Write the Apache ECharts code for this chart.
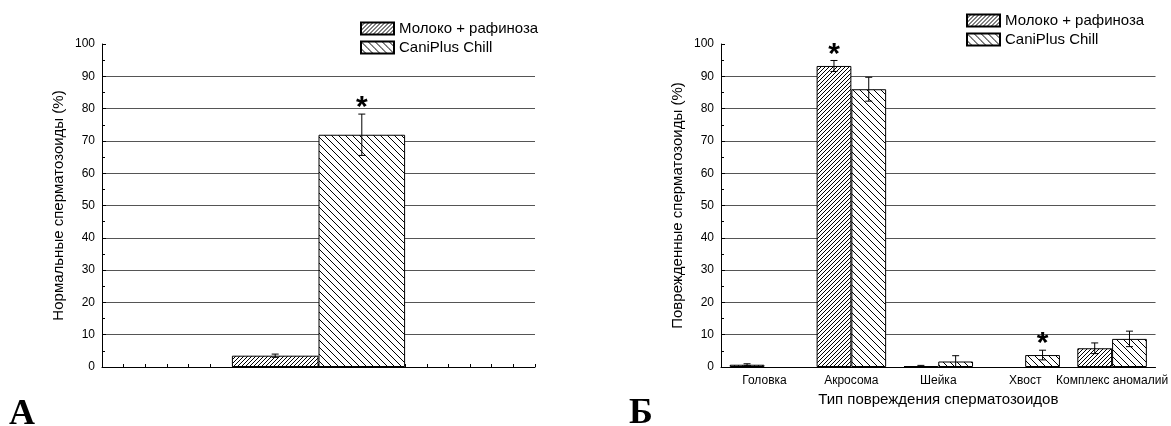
<!DOCTYPE html>
<html>
<head>
<meta charset="utf-8">
<script src="https://cdn.jsdelivr.net/npm/echarts/dist/echarts.min.js"></script>
<style>
  html, body {margin:0; padding:0; background:#fff;}
  #chart {width:1171px; height:426px;}
</style>
</head>
<body>
<div id="chart"></div>
<script>
// series names
const seriesNames = ['Молоко + рафиноза', 'CaniPlus Chill'];

// panel A - normal sperm
const leftCategories = [''];
const leftMilk = [3.5];
const leftMilkErr = [0.5];
const leftCani = [71.9];
const leftCaniErr = [6.4];
const leftStars = [[0, 1]]; // [category, series]

// panel Б - damage types
const rightCategories = ['Головка', 'Акросома', 'Шейка', 'Хвост', 'Комплекс аномалий'];
const rightMilk = [0.7, 93.2, 0.3, 0, 5.8];
const rightMilkErr = [0.3, 1.7, 0.2, 0, 1.65];
const rightCani = [0, 86.0, 1.7, 3.7, 8.7];
const rightCaniErr = [0, 3.7, 1.8, 1.5, 2.4];
const rightStars = [[1, 0], [3, 1]];

const yTicks = [0, 10, 20, 30, 40, 50, 60, 70, 80, 90, 100];

const FONT = 'Liberation Sans, Arial, sans-serif';

function hatch(size, forward, lw){
    let c = document.createElement('canvas');
    c.width = size; c.height = size;
    let ctx = c.getContext('2d');
    ctx.fillStyle = '#fff';
    ctx.fillRect(0, 0, size, size);
    ctx.strokeStyle = '#000';
    ctx.lineWidth = lw;
    ctx.beginPath();
    for(let k = -1; k <= 1; k++){
        if(forward){
            ctx.moveTo(k*size, size); ctx.lineTo(k*size + size, 0);
        }else{
            ctx.moveTo(k*size, 0); ctx.lineTo(k*size + size, size);
        }
    }
    ctx.stroke();
    return {image: c, repeat: 'repeat'};
}
const milkFill = hatch(4, true, 1);
const caniFill = hatch(7, false, 1);

// zero values are not drawn as bars in the original
const barData = vals => vals.map(v => v === 0 ? '-' : v);

function errData(vals, errs, s){
    return vals.map((v, i) => [i, v, errs[i], s]);
}

function errorSeries(xi, yi, frac, data){
    return {
        type: 'custom',
        xAxisIndex: xi,
        yAxisIndex: yi,
        z: 5,
        silent: true,
        data: data,
        renderItem: function(params, api){
            let x = api.value(0), v = api.value(1), e = api.value(2), s = api.value(3);
            if(!e || !v) return null;
            let band = api.size([1, 0])[0];
            let w = band * frac;
            let p = api.coord([x, v]);
            let cx = p[0] + (s === 0 ? -w/2 : w/2);
            let t = api.coord([x, v + e])[1];
            let b = api.coord([x, v - e])[1];
            let st = {stroke: '#000', lineWidth: 1};
            return {type: 'group', children: [
                {type: 'line', shape: {x1: cx, y1: t, x2: cx, y2: b}, style: st},
                {type: 'line', shape: {x1: cx-3.5, y1: t, x2: cx+3.5, y2: t}, style: st},
                {type: 'line', shape: {x1: cx-3.5, y1: b, x2: cx+3.5, y2: b}, style: st}
            ]};
        }
    };
}

function starSeries(xi, yi, frac, stars, vals, errs){
    return {
        type: 'custom',
        xAxisIndex: xi,
        yAxisIndex: yi,
        z: 6,
        silent: true,
        data: stars.map(d => [d[0], vals[d[1]][d[0]] + errs[d[1]][d[0]], d[1]]),
        renderItem: function(params, api){
            let x = api.value(0), top = api.value(1), s = api.value(2);
            let band = api.size([1, 0])[0];
            let w = band * frac;
            let p = api.coord([x, top]);
            let cx = p[0] + (s === 0 ? -w/2 : w/2);
            return {type: 'text', x: cx, y: p[1] + 9, style: {
                text: '*', fontSize: 30, fontWeight: 'bold', fontFamily: FONT,
                fill: '#000', align: 'center', verticalAlign: 'bottom'
            }};
        }
    };
}

function yAxisCfg(gi, name){
    return {
        type: 'value', gridIndex: gi, min: 0, max: 100, interval: 10,
        name: name, nameLocation: 'middle', nameGap: 36,
        nameTextStyle: {fontFamily: FONT, fontSize: 15, color: '#000'},
        axisLine: {show: true, lineStyle: {color: '#000', width: 1}},
        axisTick: {show: true, inside: true, length: 4, lineStyle: {color: '#000'}},
        minorTick: {show: true, splitNumber: 2, length: 3, lineStyle: {color: '#000'}},
        axisLabel: {fontFamily: FONT, fontSize: 12, color: '#000', margin: 7,
            formatter: v => yTicks.includes(v) ? String(v) : ''},
        splitLine: {show: true, showMinLine: false, showMaxLine: false, lineStyle: {color: '#555', width: 1}}
    };
}

const legendCfg = (left, top) => ({
    data: seriesNames, orient: 'vertical', left: left, top: top, padding: 0,
    itemWidth: 33, itemHeight: 12, itemGap: 4, icon: 'rect', selectedMode: false,
    textStyle: {fontFamily: FONT, fontSize: 15, color: '#000', padding: [0, 0, 0, 0]}
});

const barStyle = fill => ({color: fill, borderColor: '#000', borderWidth: 1});

let chart = echarts.init(document.getElementById('chart'));
let option = {
    animation: false,
    textStyle: {fontFamily: FONT},
    grid: [
        {left: 102, right: 636, top: 44, bottom: 59},
        {left: 721, right: 14, top: 44, bottom: 59}
    ],
    legend: [legendCfg(360, 21), legendCfg(966, 13)],
    xAxis: [
        {type: 'category', gridIndex: 0, data: leftCategories,
            axisLine: {lineStyle: {color: '#000'}}, axisTick: {show: false}, axisLabel: {show: false}},
        {type: 'category', gridIndex: 1, data: rightCategories,
            name: 'Тип повреждения сперматозоидов', nameLocation: 'middle', nameGap: 23,
            nameTextStyle: {fontFamily: FONT, fontSize: 15, color: '#000'},
            axisLine: {lineStyle: {color: '#000'}}, axisTick: {show: false},
            axisLabel: {fontFamily: FONT, fontSize: 12, color: '#000', margin: 8, interval: 0}},
        {type: 'value', gridIndex: 0, min: 0, max: 20, interval: 1, position: 'bottom',
            axisLine: {show: false}, axisLabel: {show: false}, splitLine: {show: false},
            axisTick: {show: true, inside: true, length: 3, lineStyle: {color: '#000'}}}
    ],
    yAxis: [
        yAxisCfg(0, 'Нормальные сперматозоиды (%)'),
        yAxisCfg(1, 'Поврежденные сперматозоиды (%)')
    ],
    series: [
        {name: seriesNames[0], type: 'bar', xAxisIndex: 0, yAxisIndex: 0, data: barData(leftMilk),
            barGap: '0%', barCategoryGap: '60%', itemStyle: barStyle(milkFill)},
        {name: seriesNames[1], type: 'bar', xAxisIndex: 0, yAxisIndex: 0, data: barData(leftCani),
            barGap: '0%', barCategoryGap: '60%', itemStyle: barStyle(caniFill)},
        {name: seriesNames[0], type: 'bar', xAxisIndex: 1, yAxisIndex: 1, data: barData(rightMilk),
            barGap: '0%', barCategoryGap: '20%', itemStyle: barStyle(milkFill)},
        {name: seriesNames[1], type: 'bar', xAxisIndex: 1, yAxisIndex: 1, data: barData(rightCani),
            barGap: '0%', barCategoryGap: '20%', itemStyle: barStyle(caniFill)},
        errorSeries(0, 0, 0.2, errData(leftMilk, leftMilkErr, 0).concat(errData(leftCani, leftCaniErr, 1))),
        errorSeries(1, 1, 0.4, errData(rightMilk, rightMilkErr, 0).concat(errData(rightCani, rightCaniErr, 1))),
        starSeries(0, 0, 0.2, leftStars, [leftMilk, leftCani], [leftMilkErr, leftCaniErr]),
        starSeries(1, 1, 0.4, rightStars, [rightMilk, rightCani], [rightMilkErr, rightCaniErr])
    ],
    graphic: [
        {type: 'text', left: 9, top: 397, style: {text: 'А', fontFamily: 'Liberation Serif, Times New Roman, serif',
            fontWeight: 'bold', fontSize: 36, fill: '#000'}},
        {type: 'text', left: 629, top: 396, style: {text: 'Б', fontFamily: 'Liberation Serif, Times New Roman, serif',
            fontWeight: 'bold', fontSize: 36, fill: '#000'}}
    ]
};
chart.setOption(option);
</script>
</body>
</html>
